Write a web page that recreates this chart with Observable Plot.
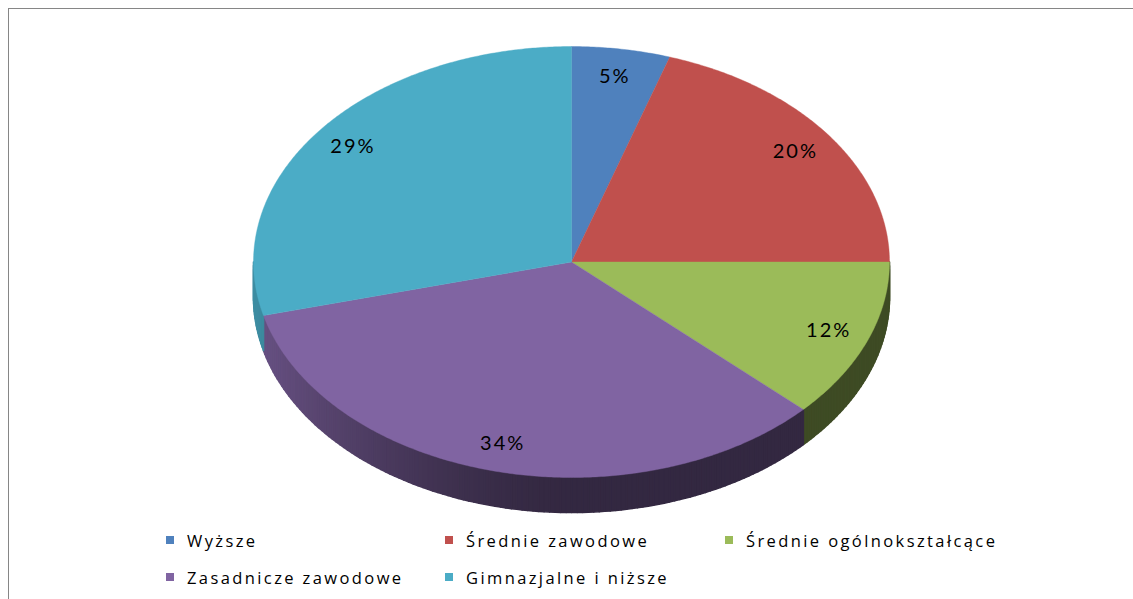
<!DOCTYPE html>
<html>
<head>
<meta charset="utf-8">
<script src="https://cdn.jsdelivr.net/npm/d3@7"></script>
<script src="https://cdn.jsdelivr.net/npm/@observablehq/plot@0.6"></script>
<style>
  html, body { margin: 0; padding: 0; background: #fff; width: 1133px; height: 599px; overflow: hidden; }
  #hline { position: absolute; left: 8px; top: 8px; width: 1125px; height: 1px; background: #868686; }
  #vline { position: absolute; left: 8px; top: 8px; width: 1px; height: 591px; background: #868686; }
  #chart { position: absolute; left: 0; top: 0; }
  #chart svg text { letter-spacing: 2px; }
  #legend { position: absolute; left: 0; top: 520px; width: 1133px; height: 79px;
            font-family: "Open Sans", sans-serif; font-size: 16.5px; color: #000; letter-spacing: 2.4px; }
  .item { position: absolute; display: flex; align-items: center; white-space: nowrap; }
  .sw { width: 8px; height: 8px; margin-right: 13px; flex: none; }
</style>
</head>
<body>
<div id="chart"></div>
<div id="legend"></div>
<div id="hline"></div>
<div id="vline"></div>
<script>
// ---- data ----
const categories = ["Wyższe", "Średnie zawodowe", "Średnie ogólnokształcące", "Zasadnicze zawodowe", "Gimnazjalne i niższe"];
const shares = [5, 20, 12, 34, 29];
const labels = ["5%", "20%", "12%", "34%", "29%"];
const colors = ["#4F81BD", "#C0504D", "#9BBB59", "#8064A2", "#4BACC6"];

// ---- geometry (unit ellipse, y pointing down) ----
const W = 1133, H = 520;
const cxPx = 571, cyPx = 261.5, rxPx = 318, ryPx = 215.5, depthPx = 35;
const depth = depthPx / ryPx;
const rad = Math.PI / 180;
const total = d3.sum(shares);

function shade(col, f) {
  const c = d3.rgb(col);
  return d3.rgb(c.r * f, c.g * f, c.b * f).formatHex();
}
function sideFactor(tDeg) {
  const s = Math.max(0, -Math.sin(tDeg * rad));
  return 0.4 + 0.42 * Math.pow(s, 1.6);
}

let acc = 0;
const slices = categories.map((name, i) => {
  const a0 = acc / total * 360;
  acc += shares[i];
  const a1 = acc / total * 360;
  return {name, a0, a1, color: colors[i], label: labels[i]};
});

// top faces
const topPts = [];
slices.forEach((s, i) => {
  topPts.push({id: "top" + i, x: 0, y: 0, fill: s.color});
  const n = Math.max(2, Math.ceil((s.a1 - s.a0) / 0.5));
  for (let k = 0; k <= n; k++) {
    const t = (s.a0 + (s.a1 - s.a0) * k / n) * rad;
    topPts.push({id: "top" + i, x: Math.sin(t), y: -Math.cos(t), fill: s.color});
  }
  topPts.push({id: "top" + i, x: 0, y: 0, fill: s.color});
});

// side strips (front half only)
const sidePts = [];
slices.forEach((s, i) => {
  const lo = Math.max(s.a0, 90), hi = Math.min(s.a1, 270);
  if (hi <= lo) return;
  const n = Math.max(1, Math.ceil((hi - lo) / 1));
  for (let k = 0; k < n; k++) {
    const t0 = lo + (hi - lo) * k / n, t1 = lo + (hi - lo) * (k + 1) / n;
    const f = shade(s.color, sideFactor((t0 + t1) / 2));
    const id = "side" + i + "_" + k;
    const p0 = [Math.sin(t0 * rad), -Math.cos(t0 * rad)];
    const p1 = [Math.sin(t1 * rad), -Math.cos(t1 * rad)];
    sidePts.push({id, x: p0[0], y: p0[1], fill: f});
    sidePts.push({id, x: p1[0], y: p1[1], fill: f});
    sidePts.push({id, x: p1[0], y: p1[1] + depth, fill: f});
    sidePts.push({id, x: p0[0], y: p0[1] + depth, fill: f});
    sidePts.push({id, x: p0[0], y: p0[1], fill: f});
  }
});

// labels
const labelR = 0.87;
const labelPts = slices.map(s => {
  const t = (s.a0 + s.a1) / 2 * rad;
  return {x: labelR * Math.sin(t), y: -labelR * Math.cos(t), text: s.label};
});

const chart = Plot.plot({
  width: W,
  height: H,
  margin: 0,
  style: {background: "transparent", overflow: "visible"},
  x: {domain: [-cxPx / rxPx, (W - cxPx) / rxPx], axis: null},
  y: {domain: [-cyPx / ryPx, (H - cyPx) / ryPx], reverse: true, axis: null},
  marks: [
    Plot.line(sidePts, {x: "x", y: "y", z: "id", fill: "fill", stroke: "fill", strokeWidth: 1.6, strokeLinejoin: "round", curve: "linear"}),
    Plot.line(topPts, {x: "x", y: "y", z: "id", fill: "fill", stroke: "fill", strokeWidth: 0.4, curve: "linear"}),
    Plot.text(labelPts, {x: "x", y: "y", text: "text", fontSize: 20, fontFamily: "Lato, 'Open Sans', sans-serif", fill: "#000"})
  ]
});
document.getElementById("chart").appendChild(chart);

// legend
const legendPos = [[166, 20], [445, 20], [725, 20], [166, 57], [445, 57]];
const legend = document.getElementById("legend");
categories.forEach((c, i) => {
  const it = document.createElement("div");
  it.className = "item";
  it.style.left = legendPos[i][0] + "px";
  it.style.top = (legendPos[i][1] - 12) + "px";
  it.style.height = "24px";
  const sw = document.createElement("span");
  sw.className = "sw";
  sw.style.background = colors[i];
  const tx = document.createElement("span");
  tx.textContent = c;
  it.appendChild(sw);
  it.appendChild(tx);
  legend.appendChild(it);
});
</script>
</body>
</html>
